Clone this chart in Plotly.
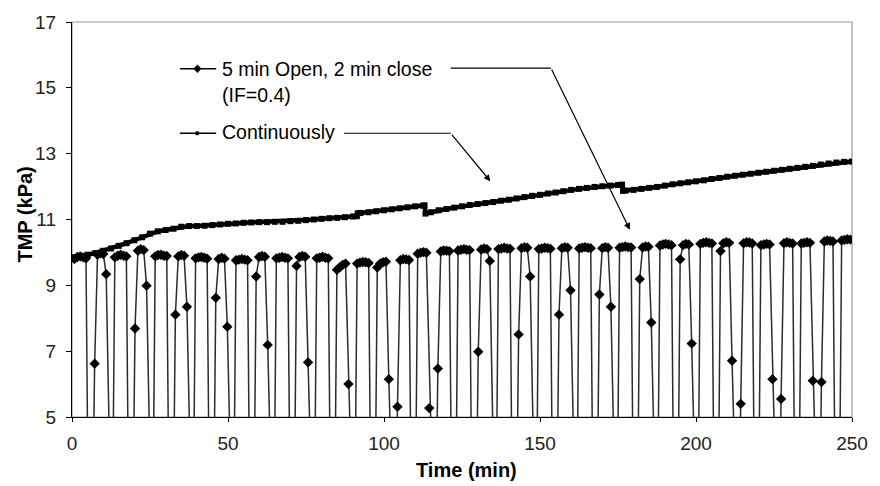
import plotly.graph_objects as go

# ---------------- data ----------------
# Intermittent filtration (5 min open / 2 min closed): one row per cycle
cycle_start = [0.79, 7.26, 13.73, 20.20, 26.67, 33.14, 39.62, 46.09, 52.56, 59.03,
               65.50, 71.97, 78.44, 84.91, 91.38, 97.85, 104.32, 110.80, 117.27, 123.74,
               130.21, 136.68, 143.15, 149.62, 156.09, 162.56, 169.03, 175.50, 181.97, 188.45,
               194.92, 201.39, 207.86, 214.33, 220.80, 227.27, 233.74, 240.21, 246.68]
cycle_offsets = [0.0, 0.924, 1.849, 2.773, 3.697, 4.621, 5.546]
cycle_tmp = [
    [9.80, 9.86, 9.88, 9.85, 9.82, 0, 0],
    [6.62, 9.93, 9.97, 9.95, 9.34, 0, 0],
    [9.85, 9.90, 9.93, 9.90, 9.88, 0, 0],
    [7.69, 10.05, 10.10, 10.07, 8.99, 0, 0],
    [9.88, 9.92, 9.93, 9.90, 9.89, 0, 0],
    [8.11, 9.88, 9.92, 9.90, 8.35, 0, 0],
    [9.82, 9.85, 9.86, 9.84, 9.81, 0, 0],
    [8.62, 9.80, 9.84, 9.81, 7.74, 0, 0],
    [9.76, 9.78, 9.80, 9.78, 9.76, 0, 0],
    [9.27, 9.86, 9.89, 9.87, 7.19, 0, 0],
    [9.82, 9.84, 9.86, 9.84, 9.82, 0, 0],
    [9.59, 9.86, 9.89, 9.87, 6.66, 0, 0],
    [9.82, 9.84, 9.87, 9.84, 9.82, 0, 0],
    [9.47, 9.55, 9.62, 9.66, 6.00, 0, 0],
    [9.66, 9.69, 9.71, 9.70, 9.68, 0, 0],
    [9.54, 9.66, 9.70, 9.72, 6.15, 0, 0],
    [5.31, 9.76, 9.80, 9.79, 9.77, 0, 0],
    [9.96, 9.99, 10.01, 9.99, 5.27, 0, 0],
    [6.47, 10.03, 10.06, 10.05, 10.04, 0, 0],
    [10.06, 10.08, 10.10, 10.08, 10.07, 0, 0],
    [6.98, 10.09, 10.12, 10.10, 9.74, 0, 0],
    [10.10, 10.12, 10.14, 10.12, 10.11, 0, 0],
    [7.51, 10.13, 10.16, 10.14, 9.27, 0, 0],
    [10.10, 10.12, 10.14, 10.13, 10.11, 0, 0],
    [8.11, 10.13, 10.16, 10.14, 8.85, 0, 0],
    [10.12, 10.14, 10.16, 10.14, 10.13, 0, 0],
    [8.72, 10.13, 10.16, 10.14, 8.35, 0, 0],
    [10.14, 10.16, 10.18, 10.16, 10.15, 0, 0],
    [9.19, 10.15, 10.18, 10.17, 7.87, 0, 0],
    [10.21, 10.24, 10.26, 10.24, 10.22, 0, 0],
    [9.79, 10.22, 10.26, 10.24, 7.23, 0, 0],
    [10.26, 10.29, 10.31, 10.29, 10.27, 0, 0],
    [10.04, 10.28, 10.31, 10.29, 6.71, 0, 0],
    [5.40, 10.28, 10.31, 10.30, 10.27, 0, 0],
    [10.22, 10.24, 10.26, 10.24, 6.15, 0, 0],
    [5.55, 10.28, 10.31, 10.29, 10.27, 0, 0],
    [10.27, 10.29, 10.31, 10.29, 6.10, 0, 0],
    [6.06, 10.33, 10.36, 10.35, 10.33, 0, 0],
    [10.36, 10.38, 10.40, 10.39],
]

# Continuous filtration
cont_time = [0, 2.5, 5, 7.5, 10, 12.5, 15, 17.5, 20, 22.5, 25, 27.5, 30, 32.5, 35, 37.5,
             40, 42.5, 45, 47.5, 50, 52.5, 55, 57.5, 60, 62.5, 65, 67.5, 70, 72.5, 75,
             77.5, 80, 82.5, 85, 87.5, 90, 91.3, 91.6, 92.5, 95, 97.5, 100, 102.5, 105,
             107.5, 110, 112.5, 113.0, 113.3, 115, 117.5, 120, 122.5, 125, 127.5, 130,
             132.5, 135, 137.5, 140, 142.5, 145, 147.5, 150, 152.5, 155, 157.5, 160,
             162.5, 165, 167.5, 170, 172.5, 175, 176.3, 176.6, 177.5, 180, 182.5, 185,
             187.5, 190, 192.5, 195, 197.5, 200, 202.5, 205, 207.5, 210, 212.5, 215,
             217.5, 220, 222.5, 225, 227.5, 230, 232.5, 235, 237.5, 240, 242.5, 245,
             247.5, 250]
cont_tmp = [9.85, 9.88, 9.93, 9.98, 10.05, 10.12, 10.20, 10.28, 10.37, 10.46, 10.57, 10.64,
            10.68, 10.72, 10.78, 10.80, 10.80, 10.81, 10.83, 10.85, 10.87, 10.88, 10.90,
            10.91, 10.92, 10.92, 10.93, 10.93, 10.95, 10.96, 10.98, 11.00, 11.02, 11.04,
            11.05, 11.07, 11.09, 11.10, 11.19, 11.20, 11.22, 11.25, 11.28, 11.31, 11.34,
            11.37, 11.40, 11.42, 11.43, 11.18, 11.22, 11.28, 11.32, 11.36, 11.40, 11.44,
            11.47, 11.50, 11.53, 11.57, 11.60, 11.64, 11.68, 11.72, 11.75, 11.79, 11.82,
            11.86, 11.90, 11.93, 11.96, 11.99, 12.01, 12.03, 12.05, 12.06, 11.87, 11.88,
            11.90, 11.93, 11.96, 11.99, 12.03, 12.07, 12.10, 12.13, 12.16, 12.19, 12.23,
            12.26, 12.30, 12.33, 12.36, 12.39, 12.42, 12.45, 12.48, 12.51, 12.54, 12.57,
            12.60, 12.63, 12.67, 12.70, 12.73, 12.75, 12.76]

x_ticks = [0, 50, 100, 150, 200, 250]
y_ticks = [5, 7, 9, 11, 13, 15, 17]
label_int = "5 min Open, 2 min close"
label_int2 = "(IF=0.4)"
label_cont = "Continuously"
x_title = "Time (min)"
y_title = "TMP (kPa)"

# ---------------- build ----------------
int_time, int_tmp = [], []
for start, vals in zip(cycle_start, cycle_tmp):
    for off, v in zip(cycle_offsets, vals):
        int_time.append(round(start + off, 3))
        int_tmp.append(v)

FONT = "Arial, Liberation Sans, sans-serif"

fig = go.Figure()
fig.add_trace(go.Scatter(
    x=int_time, y=int_tmp, mode="lines+markers", showlegend=False,
    line=dict(color="#2b2b2b", width=1.5),
    marker=dict(symbol="diamond", size=8, color="black"),
    cliponaxis=True,
))
fig.add_trace(go.Scatter(
    x=cont_time, y=cont_tmp, mode="lines+markers", showlegend=False,
    line=dict(color="black", width=4.5),
    marker=dict(symbol="square", size=6, color="black"),
))

shapes = []
# legend sample lines and symbols
shapes.append(dict(type="line", xref="x", yref="y", x0=34.6, x1=46.2, y0=15.58, y1=15.58,
                   line=dict(color="black", width=1.3)))
shapes.append(dict(type="path", xref="x", yref="y",
                   path="M 40.2 15.70 L 41.4 15.58 L 40.2 15.46 L 39.0 15.58 Z",
                   fillcolor="black", line=dict(color="black", width=0.5)))
shapes.append(dict(type="line", xref="x", yref="y", x0=34.6, x1=46.2, y0=13.62, y1=13.62,
                   line=dict(color="black", width=1.3)))
shapes.append(dict(type="rect", xref="x", yref="y", x0=39.7, x1=40.6, y0=13.57, y1=13.67,
                   fillcolor="black", line=dict(color="black", width=0.5)))
# leader lines (horizontal parts)
shapes.append(dict(type="line", xref="x", yref="y", x0=121.4, x1=153.5, y0=15.60, y1=15.60,
                   line=dict(color="black", width=1.2)))
shapes.append(dict(type="line", xref="x", yref="y", x0=87.2, x1=121.4, y0=13.62, y1=13.62,
                   line=dict(color="black", width=1.2)))
# plot frame (grey top/right border)
shapes.append(dict(type="rect", xref="paper", yref="paper", x0=0, x1=1, y0=0, y1=1,
                   line=dict(color="#9a9a9a", width=1.2), layer="below"))

LEG_FONT = dict(family=FONT, size=19.5, color="black")
annotations = [
    dict(x=47.3, y=15.58, xref="x", yref="y", text=label_int, showarrow=False,
         xanchor="left", yanchor="middle", font=LEG_FONT),
    dict(x=47.3, y=14.77, xref="x", yref="y", text=label_int2, showarrow=False,
         xanchor="left", yanchor="middle", font=LEG_FONT),
    dict(x=47.3, y=13.66, xref="x", yref="y", text=label_cont, showarrow=False,
         xanchor="left", yanchor="middle", font=LEG_FONT),
    # diagonal leader arrows
    dict(x=178.8, y=10.69, ax=153.5, ay=15.60, xref="x", yref="y", axref="x", ayref="y",
         text="", showarrow=True, arrowhead=2, arrowsize=1.1, arrowwidth=1.2, arrowcolor="black"),
    dict(x=134.1, y=12.16, ax=121.4, ay=13.62, xref="x", yref="y", axref="x", ayref="y",
         text="", showarrow=True, arrowhead=2, arrowsize=1.1, arrowwidth=1.2, arrowcolor="black"),
    # axis titles
    dict(x=0.506, y=0, xref="paper", yref="paper", text="<b>" + x_title + "</b>",
         showarrow=False, xanchor="center", yanchor="middle", yshift=-53,
         font=dict(family=FONT, size=20, color="black")),
    dict(x=0, y=0.5125, xref="paper", yref="paper", text="<b>" + y_title + "</b>",
         showarrow=False, xanchor="center", yanchor="middle", xshift=-47, textangle=-90,
         font=dict(family=FONT, size=20, color="black")),
]

fig.update_layout(
    width=880, height=486,
    margin=dict(l=72, r=16, t=17, b=69),
    paper_bgcolor="white", plot_bgcolor="white",
    font=dict(family=FONT, size=19, color="black"),
    shapes=shapes, annotations=annotations,
    showlegend=False,
)
fig.update_xaxes(
    range=[0, 250], tickvals=x_ticks, ticks="outside", ticklen=4, tickcolor="black",
    showline=True, linecolor="black", linewidth=1.2, showgrid=False, zeroline=False,
    tickfont=dict(family=FONT, size=19, color="#222"), ticklabelstandoff=5,
)
fig.update_yaxes(
    range=[5, 17], tickvals=y_ticks, ticks="outside", ticklen=5, tickcolor="black",
    showline=True, linecolor="black", linewidth=1.2, showgrid=False, zeroline=False,
    tickfont=dict(family=FONT, size=19, color="#222"), ticklabelstandoff=6,
)

fig.write_html("out.html")
